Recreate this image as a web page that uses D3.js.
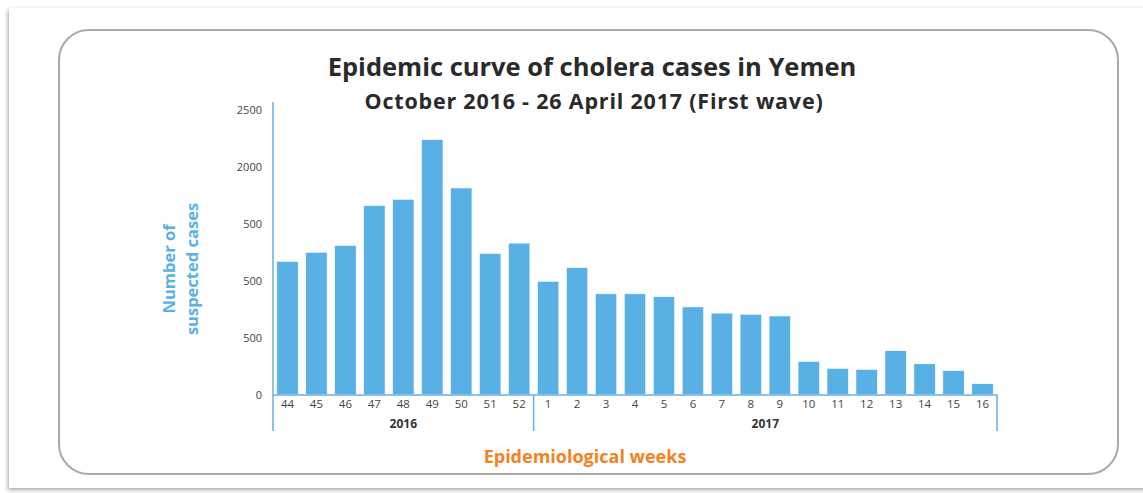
<!DOCTYPE html>
<html>
<head>
<meta charset="utf-8">
<script src="https://cdn.jsdelivr.net/npm/d3@7"></script>
<style>
  html, body { margin: 0; padding: 0; background: #f4f4f4; }
  svg { display: block; }
  text { font-family: "Open Sans", "Noto Sans", sans-serif; }
</style>
</head>
<body>
<svg id="chart" width="1143" height="493"></svg>
<script>
// Epidemiological weeks shown on the x axis
const weeks = ["44","45","46","47","48","49","50","51","52",
               "1","2","3","4","5","6","7","8","9","10","11","12","13","14","15","16"];
// Year each week belongs to
const weekYears = ["2016","2016","2016","2016","2016","2016","2016","2016","2016",
                   "2017","2017","2017","2017","2017","2017","2017","2017","2017",
                   "2017","2017","2017","2017","2017","2017","2017"];
// Suspected cholera cases per week
const cases = [1170, 1250, 1310, 1660, 1715, 2240, 1815, 1240, 1330,
               995, 1115, 885, 885, 860, 770, 715, 705, 690,
               290, 230, 220, 385, 270, 210, 95];
// Y tick positions and the labels printed beside them
const yTickValues = [0, 500, 1000, 1500, 2000, 2500];
const yTickLabels = ["0", "500", "500", "500", "2000", "2500"];

const title = "Epidemic curve of cholera cases in Yemen";
const subtitle = "October 2016 - 26 April 2017 (First wave)";

const W = 1143, H = 493;
const barColor = "#58b0e5";
const axisColor = "#6aaee0";

const svg = d3.select("#chart");

// Drop shadow for the page card
const defs = svg.append("defs");
const f = defs.append("filter").attr("id", "shadow")
  .attr("x", "-5%").attr("y", "-5%").attr("width", "110%").attr("height", "110%");
f.append("feDropShadow").attr("dx", -1).attr("dy", 2).attr("stdDeviation", 2)
  .attr("flood-color", "#000").attr("flood-opacity", 0.35);

svg.append("rect").attr("x", 0).attr("y", 0).attr("width", W).attr("height", H).attr("fill", "#ffffff");
svg.append("rect").attr("x", 9).attr("y", 8).attr("width", 1140).attr("height", 480)
  .attr("fill", "#ffffff").attr("filter", "url(#shadow)");

// Rounded frame
svg.append("rect").attr("x", 59).attr("y", 30).attr("width", 1059).attr("height", 444)
  .attr("rx", 30).attr("ry", 30)
  .attr("fill", "none").attr("stroke", "#a9a9a9").attr("stroke-width", 2);

// Titles
svg.append("text").attr("x", 592).attr("y", 76).attr("text-anchor", "middle")
  .attr("font-size", 25.5).attr("font-weight", 700).attr("fill", "#2a2a2a")
  .text(title);
svg.append("text").attr("x", 594).attr("y", 109).attr("text-anchor", "middle")
  .attr("font-size", 21.5).attr("font-weight", 700).attr("fill", "#2a2a2a")
  .attr("letter-spacing", 0.8)
  .text(subtitle);

// Scales
const x = d3.scaleBand().domain(weeks).range([273, 997]).paddingInner(0.26).paddingOuter(0.13);
const y = d3.scaleLinear().domain([0, 2500]).range([394.5, 110]);

const axisBottomY = 395;
const axisLowY = 431;

// Bars
svg.append("g").selectAll("rect").data(cases).join("rect")
  .attr("x", (d, i) => x(weeks[i]))
  .attr("y", d => y(d))
  .attr("width", x.bandwidth())
  .attr("height", d => y(0) - y(d))
  .attr("fill", barColor)
  .attr("stroke", "#ffffff").attr("stroke-width", 0.6);

// Y axis
const yAxis = svg.append("g").attr("transform", "translate(273,0)")
  .call(d3.axisLeft(y).tickValues(yTickValues).tickSize(0).tickPadding(11)
    .tickFormat((d, i) => yTickLabels[i]));
yAxis.select(".domain").remove();
yAxis.selectAll("text").attr("font-size", 11).attr("fill", "#444")
  .attr("font-family", "'Open Sans', sans-serif").attr("dy", "0.36em");
svg.append("line").attr("x1", 273).attr("x2", 273).attr("y1", 102).attr("y2", axisLowY)
  .attr("stroke", axisColor).attr("stroke-width", 1.5);

// X axis
const xAxis = svg.append("g").attr("transform", `translate(0,${axisBottomY})`)
  .call(d3.axisBottom(x).tickSize(0).tickPadding(5));
xAxis.select(".domain").remove();
xAxis.selectAll("text").attr("font-size", 11.5).attr("fill", "#444")
  .attr("font-family", "'Open Sans', sans-serif");
svg.append("path")
  .attr("d", `M273,${axisBottomY}H997V${axisLowY}`)
  .attr("fill", "none").attr("stroke", axisColor).attr("stroke-width", 1.5);

// Year groups under the week labels
const years = Array.from(new Set(weekYears));
years.forEach((yr, k) => {
  const idx = weekYears.map((v, i) => v === yr ? i : -1).filter(i => i >= 0);
  const x0 = x(weeks[idx[0]]) - x.step() * x.paddingInner() / 2;
  const x1 = x(weeks[idx[idx.length - 1]]) + x.bandwidth() + x.step() * x.paddingInner() / 2;
  if (k > 0) {
    svg.append("line").attr("x1", x0).attr("x2", x0).attr("y1", axisBottomY).attr("y2", axisLowY)
      .attr("stroke", axisColor).attr("stroke-width", 1.5);
  }
  svg.append("text").attr("x", (Math.max(x0, 273) + Math.min(x1, 997)) / 2).attr("y", 428)
    .attr("text-anchor", "middle").attr("font-size", 12).attr("font-weight", 700)
    .attr("fill", "#333").text(yr);
});

// Axis titles
svg.append("text").attr("transform", "translate(175,269) rotate(-90)")
  .attr("text-anchor", "middle").attr("font-size", 16.5).attr("font-weight", 700)
  .attr("fill", "#5ab1e6").text("Number of");
svg.append("text").attr("transform", "translate(198,269) rotate(-90)")
  .attr("text-anchor", "middle").attr("font-size", 16.5).attr("font-weight", 700)
  .attr("fill", "#5ab1e6").text("suspected cases");
svg.append("text").attr("x", 585).attr("y", 463).attr("text-anchor", "middle")
  .attr("font-size", 18).attr("font-weight", 700).attr("fill", "#f58220")
  .text("Epidemiological weeks");
</script>
</body>
</html>
